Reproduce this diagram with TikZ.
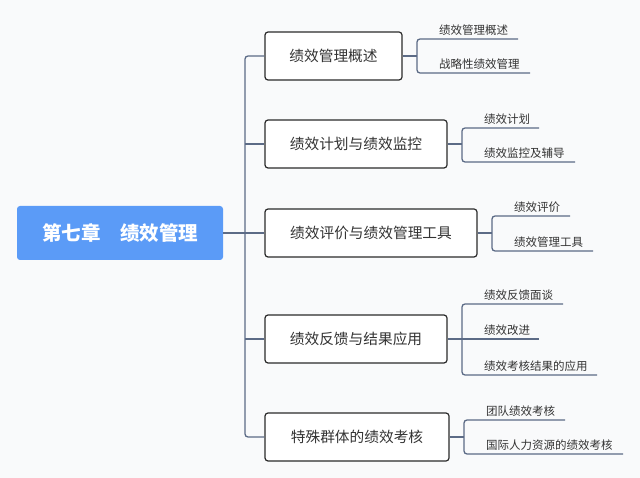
\documentclass[tikz,border=0pt]{standalone}
\usepackage{fontspec}
\setmainfont{Noto Sans CJK SC}
\definecolor{bg}{HTML}{F9FAFB}
\definecolor{lc}{HTML}{5C6B86}
\definecolor{bc}{HTML}{2B2B2B}
\definecolor{tc}{HTML}{333333}
\definecolor{rootc}{HTML}{5B9BF7}
\begin{document}
\begin{tikzpicture}[x=1pt,y=-1pt,
  conn/.style={draw=lc, line width=1.3pt, rounded corners=3pt},
  box/.style={draw=bc, line width=1.2pt, fill=white, rounded corners=3pt,
    minimum height=48pt, inner sep=0pt, text=tc, font=\fontsize{14.7}{16}\selectfont},
  rootbox/.style={fill=rootc, rounded corners=3pt, minimum width=206pt,
    minimum height=54pt, inner sep=0pt, text=white, font=\fontsize{19.5}{21}\selectfont\bfseries},
  leaf/.style={anchor=south west, inner sep=0pt, text=tc, font=\fontsize{11.5}{13}\selectfont}]
\fill[bg] (0,0) rectangle (640,478);
\useasboundingbox (0,0) rectangle (640,478);

\node[rootbox] (root) at (120,233) {第七章\hspace{1em}绩效管理};

\node[box, minimum width=137pt] (b1) at (333.5,56) {绩效管理概述};
\node[box, minimum width=182pt] (b2) at (356,144) {绩效计划与绩效监控};
\node[box, minimum width=212pt] (b3) at (371,233) {绩效评价与绩效管理工具};
\node[box, minimum width=182pt] (b4) at (356,339) {绩效反馈与结果应用};
\node[box, minimum width=184pt] (b5) at (357,437) {特殊群体的绩效考核};

% trunk
\coordinate (tx) at (245,0);
\draw[conn] (b1.west) -- (tx |- b1.west) -- (tx |- b5.west) -- (b5.west);
\draw[conn] (tx |- b2.west) -- (b2.west);
\draw[conn] (tx |- b4.west) -- (b4.west);
\draw[conn] (root.east) -- (b3.west);

% group 1
\coordinate (v1) at (417,0);
\coordinate (e11) at (518,39);
\coordinate (e12) at (530,73);
\node[leaf] (l11) at (439,36) {绩效管理概述};
\node[leaf] (l12) at (439,70) {战略性绩效管理};
\draw[conn] (b1.east) -- (v1 |- b1.east);
\draw[conn] (e11) -- (v1 |- e11) -- (v1 |- e12) -- (e12);

% group 2
\coordinate (v2) at (462,0);
\coordinate (e21) at (539,128);
\coordinate (e22) at (575,162);
\node[leaf] (l21) at (484,125) {绩效计划};
\node[leaf] (l22) at (484,159) {绩效监控及辅导};
\draw[conn] (b2.east) -- (v2 |- b2.east);
\draw[conn] (e21) -- (v2 |- e21) -- (v2 |- e22) -- (e22);

% group 3
\coordinate (v3) at (492,0);
\coordinate (e31) at (570,216);
\coordinate (e32) at (593,251);
\node[leaf] (l31) at (514,213) {绩效评价};
\node[leaf] (l32) at (514,248) {绩效管理工具};
\draw[conn] (b3.east) -- (v3 |- b3.east);
\draw[conn] (e31) -- (v3 |- e31) -- (v3 |- e32) -- (e32);

% group 4
\coordinate (v4) at (462,0);
\coordinate (e41) at (563,304);
\coordinate (e42) at (539,339);
\coordinate (e43) at (597,375);
\node[leaf] (l41) at (484,301) {绩效反馈面谈};
\node[leaf] (l42) at (484,336) {绩效改进};
\node[leaf] (l43) at (484,372) {绩效考核结果的应用};
\draw[conn] (b4.east) -- (e42);
\draw[conn] (e41) -- (v4 |- e41) -- (v4 |- e43) -- (e43);

% group 5
\coordinate (v5) at (464,0);
\coordinate (e51) at (565,420);
\coordinate (e52) at (623,454);
\node[leaf] (l51) at (486,417) {团队绩效考核};
\node[leaf] (l52) at (486,451) {国际人力资源的绩效考核};
\draw[conn] (b5.east) -- (v5 |- b5.east);
\draw[conn] (e51) -- (v5 |- e51) -- (v5 |- e52) -- (e52);
\end{tikzpicture}
\end{document}
